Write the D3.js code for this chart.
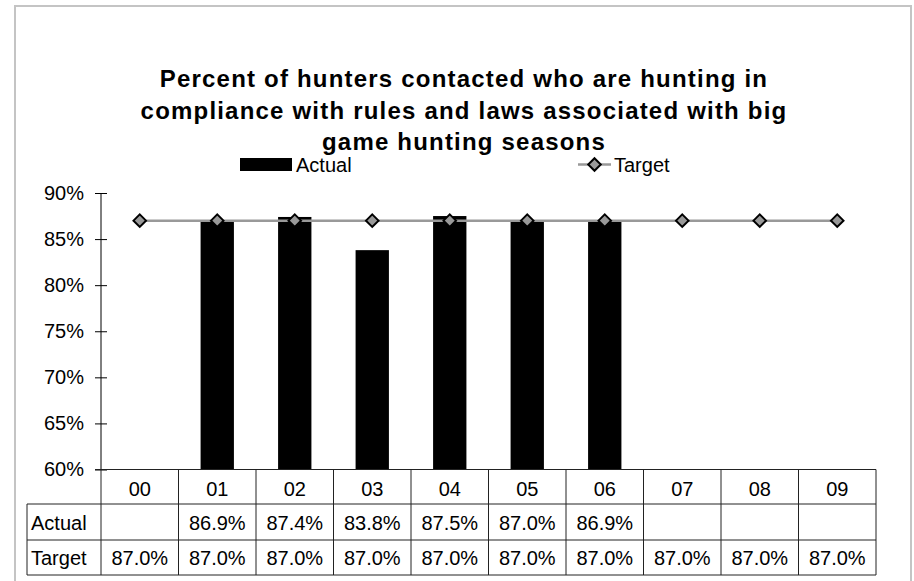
<!DOCTYPE html>
<html>
<head>
<meta charset="utf-8">
<script src="https://cdn.jsdelivr.net/npm/d3@7"></script>
<style>
  html, body { margin: 0; padding: 0; background: #fff; }
  svg { display: block; font-family: "Liberation Sans", Arial, sans-serif; }
</style>
</head>
<body>
<svg id="chart" width="914" height="581"></svg>
<script>
const titleLines = [
  "Percent of hunters contacted who are hunting in",
  "compliance with rules and laws associated with big",
  "game hunting seasons"
];
const categories = ["00", "01", "02", "03", "04", "05", "06", "07", "08", "09"];
const actual = [null, 86.9, 87.4, 83.8, 87.5, 87.0, 86.9, null, null, null];
const target = [87.0, 87.0, 87.0, 87.0, 87.0, 87.0, 87.0, 87.0, 87.0, 87.0];
const yTicks = [60, 65, 70, 75, 80, 85, 90];
const seriesNames = ["Actual", "Target"];

const svg = d3.select("#chart");

// outer frame
svg.append("rect")
  .attr("x", 15).attr("y", 6).attr("width", 896).attr("height", 580)
  .attr("fill", "#fff").attr("stroke", "#c4c4c4").attr("stroke-width", 2);

// title
svg.append("text")
  .attr("text-anchor", "middle")
  .attr("font-weight", "bold")
  .attr("font-size", "24px")
  .attr("letter-spacing", "1.2px")
  .attr("fill", "#000")
  .selectAll("tspan").data(titleLines).join("tspan")
  .attr("x", 464)
  .attr("y", (d, i) => 87 + i * 31.5)
  .text(d => d);

const x = d3.scaleBand().domain(categories).range([101, 876]).padding(0);
const y = d3.scaleLinear().domain([60, 90]).range([469.5, 193]);
const bw = x.bandwidth();
const barW = bw * 0.43;

// legend
const leg = svg.append("g").attr("font-size", "20px").attr("fill", "#000");
leg.append("rect").attr("x", 240).attr("y", 158).attr("width", 52).attr("height", 13).attr("fill", "#000");
leg.append("text").attr("x", 296).attr("y", 171.5).text(seriesNames[0]);
leg.append("line").attr("x1", 578).attr("x2", 611).attr("y1", 164.5).attr("y2", 164.5)
  .attr("stroke", "#999").attr("stroke-width", 2.5);
const diamond = d3.symbol().type(d3.symbolDiamond2).size(100);
leg.append("path").attr("d", diamond).attr("transform", "translate(594.5,164.5)")
  .attr("fill", "#999").attr("stroke", "#000").attr("stroke-width", 2);
leg.append("text").attr("x", 614).attr("y", 171.5).text(seriesNames[1]);

// bars
svg.append("g").selectAll("rect")
  .data(categories.map((c, i) => ({c, v: actual[i]})).filter(d => d.v != null))
  .join("rect")
  .attr("x", d => x(d.c) + (bw - barW) / 2)
  .attr("width", barW)
  .attr("y", d => y(d.v))
  .attr("height", d => y(60) - y(d.v))
  .attr("fill", "#000");

// y axis
const yAxis = svg.append("g").attr("transform", "translate(101,0)")
  .call(d3.axisLeft(y).tickValues(yTicks).tickSize(6).tickPadding(10).tickFormat(d => d + "%"));
yAxis.select(".domain").remove();
yAxis.append("line").attr("x1", 0).attr("x2", 0).attr("y1", y(90)).attr("y2", y(60)).attr("stroke", "#000");
yAxis.selectAll(".tick line").attr("x1", -6).attr("x2", 6).attr("stroke", "#000");
yAxis.selectAll(".tick text").attr("font-size", "20px").attr("fill", "#000")
  .attr("font-family", "Liberation Sans, Arial, sans-serif").attr("x", -17);

// target line
const tdata = categories.map((c, i) => ({c, v: target[i]}));
svg.append("path").datum(tdata)
  .attr("d", d3.line().x(d => x(d.c) + bw / 2).y(d => y(d.v)))
  .attr("fill", "none").attr("stroke", "#999").attr("stroke-width", 2.5);
svg.append("g").selectAll("path").data(tdata).join("path")
  .attr("d", diamond)
  .attr("transform", d => `translate(${x(d.c) + bw / 2},${y(d.v)})`)
  .attr("fill", "#999").attr("stroke", "#000").attr("stroke-width", 2);

// data table
const rows = [469.5, 504, 540, 575];
const tbl = svg.append("g").attr("stroke", "#222").attr("stroke-width", 1);
tbl.append("line").attr("x1", 95).attr("x2", 876).attr("y1", rows[0]).attr("y2", rows[0]);
[1, 2, 3].forEach(r => tbl.append("line").attr("x1", 27).attr("x2", 876).attr("y1", rows[r]).attr("y2", rows[r]));
tbl.append("line").attr("x1", 27).attr("x2", 27).attr("y1", rows[1]).attr("y2", rows[3]);
categories.forEach(c => tbl.append("line").attr("x1", x(c)).attr("x2", x(c)).attr("y1", rows[0]).attr("y2", rows[3]));
tbl.append("line").attr("x1", 876).attr("x2", 876).attr("y1", rows[0]).attr("y2", rows[3]);

const fmt = v => v == null ? "" : v.toFixed(1) + "%";
const tt = svg.append("g").attr("font-size", "20px").attr("fill", "#000");
tt.selectAll("text.cat").data(categories).join("text").attr("class", "cat")
  .attr("x", d => x(d) + bw / 2).attr("y", 495.5).attr("text-anchor", "middle").text(d => d);
tt.selectAll("text.act").data(categories.map((c, i) => ({c, v: actual[i]}))).join("text").attr("class", "act")
  .attr("x", d => x(d.c) + bw / 2).attr("y", 529.5).attr("text-anchor", "middle").text(d => fmt(d.v));
tt.selectAll("text.tgt").data(tdata).join("text").attr("class", "tgt")
  .attr("x", d => x(d.c) + bw / 2).attr("y", 565).attr("text-anchor", "middle").text(d => fmt(d.v));
tt.append("text").attr("x", 31).attr("y", 529.5).text(seriesNames[0]);
tt.append("text").attr("x", 31).attr("y", 565).text(seriesNames[1]);
</script>
</body>
</html>
